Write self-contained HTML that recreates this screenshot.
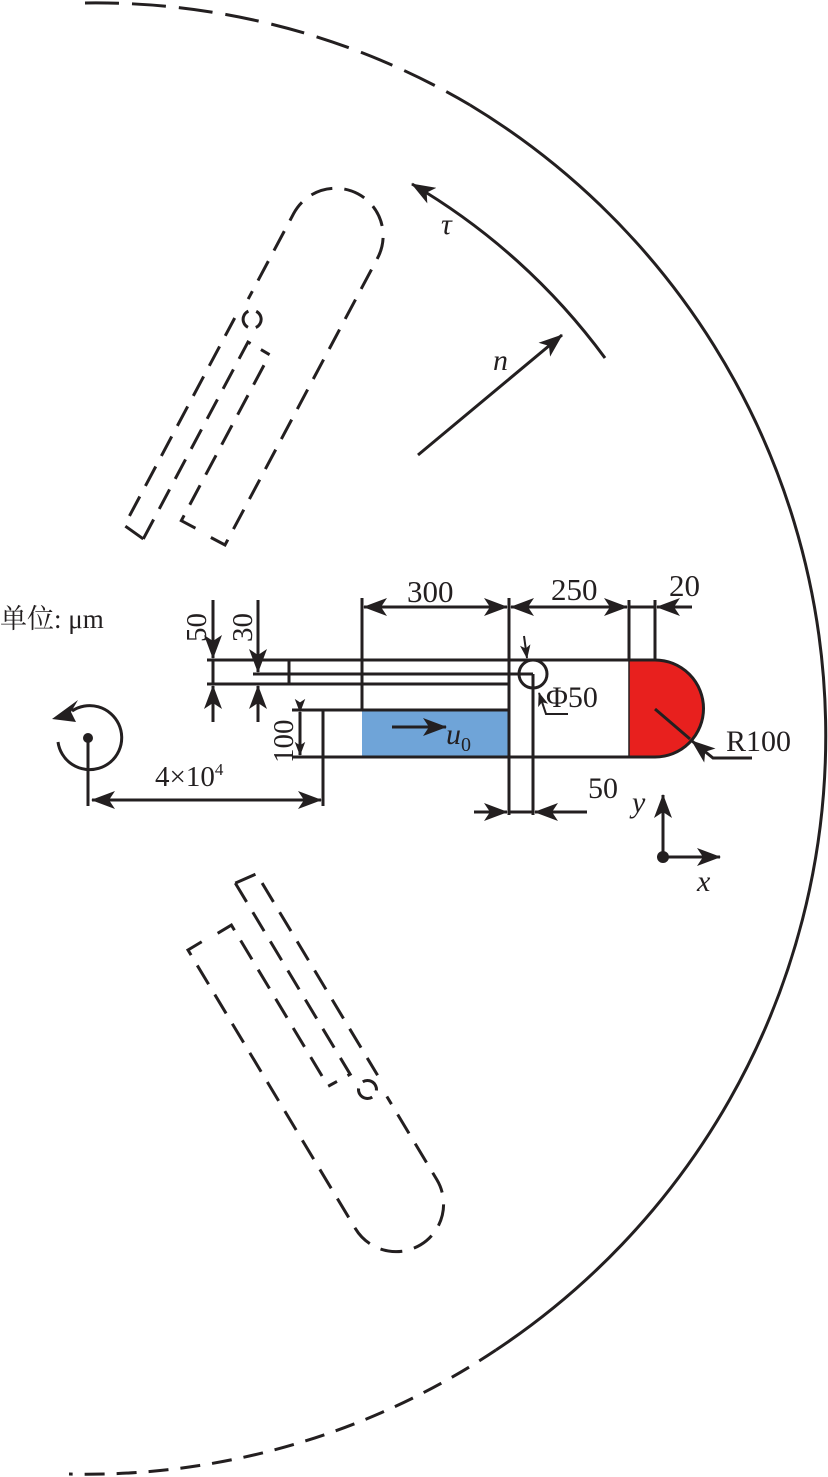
<!DOCTYPE html>
<html><head><meta charset="utf-8"><style>
html,body{margin:0;padding:0;background:#fff;}
svg{display:block;}
text{font-family:"Liberation Serif","Noto Serif CJK SC",serif;fill:#231f20;}
</style></head><body>
<svg width="828" height="1477" viewBox="0 0 828 1477" xmlns="http://www.w3.org/2000/svg">
<defs>
<marker id="a" viewBox="0 0 24 18" refX="23" refY="9" markerWidth="24" markerHeight="18" markerUnits="userSpaceOnUse" orient="auto-start-reverse">
<path d="M0,0 L24,9 L0,18 L6,9 Z" fill="#231f20"/>
</marker>
<marker id="s" viewBox="0 0 16 12" refX="15" refY="6" markerWidth="14" markerHeight="11" markerUnits="userSpaceOnUse" orient="auto">
<path d="M0,0 L16,6 L0,12 L4,6 Z" fill="#231f20"/>
</marker>
<g id="tpl" fill="none" stroke="#231f20" stroke-width="3" stroke-dasharray="22 12">
<path d="M0,-16 L0,0 L325,0 A47.5,47.5 0 0 0 325,-95 L228,-95"/>
<path d="M-33,-75 L-30,-98 L205,-98"/>
<path d="M-33,-75 L190,-75 L189,-50"/>
<path d="M1,-34 L1,-50 L188,-50"/>
<circle cx="212" cy="-82" r="9" stroke-dasharray="20 8"/>
</g>
</defs>

<path d="M85,3 A737,737 0 0 1 470,105" fill="none" stroke="#231f20" stroke-width="3" stroke-dasharray="34 13"/>
<path d="M470,105 A737,737 0 0 1 496,1350" fill="none" stroke="#231f20" stroke-width="3"/>
<path d="M496,1350 A737,737 0 0 1 69,1474" fill="none" stroke="#231f20" stroke-width="3" stroke-dasharray="20 12"/>

<use href="#tpl" transform="translate(225,545) rotate(-62)"/>
<use href="#tpl" transform="translate(188,950) rotate(59)"/>

<path d="M605,358 A642,642 0 0 0 412,184" fill="none" stroke="#231f20" stroke-width="3" marker-end="url(#a)"/>
<line x1="418" y1="455" x2="562" y2="335" stroke="#231f20" stroke-width="3" marker-end="url(#a)"/>
<text x="441" y="234" font-size="30" font-style="italic">τ</text>
<text x="493" y="370" font-size="30" font-style="italic">n</text>

<rect x="362" y="710" width="147" height="47" fill="#6fa4d8"/>
<path d="M629,660 L655,660 A48.5,48.5 0 0 1 655,757 L629,757 Z" fill="#e8201e"/>

<g fill="none" stroke="#231f20" stroke-width="3">
<path d="M213,660 L655,660 A48.5,48.5 0 0 1 655,757 L292,757"/>
<line x1="629" y1="660" x2="629" y2="757" stroke-width="1.5"/>
<line x1="213" y1="684" x2="509" y2="684"/>
<line x1="253" y1="674" x2="533" y2="674"/>
<line x1="213" y1="660" x2="213" y2="684"/>
<line x1="289" y1="660" x2="289" y2="684"/>
<line x1="292" y1="710" x2="509" y2="710"/>
<line x1="323" y1="710" x2="323" y2="806"/>
<circle cx="533" cy="674" r="14"/>
<line x1="362" y1="598" x2="362" y2="710"/>
<line x1="509" y1="598" x2="509" y2="815"/>
<line x1="533" y1="674" x2="533" y2="815"/>
<line x1="629" y1="600" x2="629" y2="660"/>
<line x1="655" y1="600" x2="655" y2="660"/>
<line x1="364" y1="607" x2="507" y2="607" marker-start="url(#a)" marker-end="url(#a)"/>
<line x1="511" y1="607" x2="627" y2="607" marker-start="url(#a)" marker-end="url(#a)"/>
<line x1="629" y1="607" x2="655" y2="607"/>
<line x1="692" y1="607" x2="657" y2="607" marker-end="url(#a)"/>
<line x1="213" y1="600" x2="213" y2="658" marker-end="url(#a)"/>
<line x1="258" y1="600" x2="258" y2="672" marker-end="url(#a)"/>
<line x1="213" y1="722" x2="213" y2="686" marker-end="url(#a)"/>
<line x1="258" y1="722" x2="258" y2="686" marker-end="url(#a)"/>
<line x1="207" y1="660" x2="213" y2="660"/>
<line x1="207" y1="684" x2="213" y2="684"/>
<line x1="300" y1="712" x2="300" y2="755" marker-start="url(#s)" marker-end="url(#s)"/>
<line x1="92" y1="800" x2="321" y2="800" marker-start="url(#a)" marker-end="url(#a)"/>
<line x1="474" y1="812" x2="507" y2="812" marker-end="url(#a)"/>
<line x1="509" y1="812" x2="533" y2="812"/>
<line x1="587" y1="812" x2="535" y2="812" marker-end="url(#a)"/>
<line x1="524" y1="636" x2="527" y2="658" stroke-width="2" marker-end="url(#s)"/>
<path d="M568,714 L546,714 L539,693" stroke-width="2" marker-end="url(#s)"/>
<line x1="655" y1="709" x2="690" y2="739"/>
<path d="M752,758 L713,758 L692,741" marker-end="url(#a)"/>
<path d="M58,742 A32,32 0 1 0 72,711" />
<line x1="88" y1="738" x2="88" y2="806"/>
<line x1="663" y1="857" x2="663" y2="795" marker-end="url(#a)"/>
<line x1="663" y1="857" x2="720" y2="857" marker-end="url(#a)"/>
</g>
<polygon points="52,719 78,700 71,712 76,722" fill="#231f20"/>
<circle cx="88" cy="738" r="5" fill="#231f20"/>
<circle cx="663" cy="857" r="6" fill="#231f20"/>

<text x="407" y="602" font-size="31">300</text>
<text x="551" y="600" font-size="31">250</text>
<text x="669" y="596" font-size="31">20</text>
<text x="0" y="628" font-size="27">单位: μm</text>
<text transform="translate(206,642) rotate(-90)" font-size="29">50</text>
<text transform="translate(252,642) rotate(-90)" font-size="29">30</text>
<text transform="translate(293,763) rotate(-90)" font-size="29">100</text>
<text x="546" y="707" font-size="30">Φ50</text>
<text x="726" y="751" font-size="30">R100</text>
<text x="588" y="798" font-size="30">50</text>
<text x="155" y="786" font-size="29">4×10<tspan font-size="17" dy="-11">4</tspan></text>
<line x1="392" y1="727" x2="446" y2="727" stroke="#231f20" stroke-width="3" marker-end="url(#a)"/>
<text x="446" y="744" font-size="30" font-style="italic">u<tspan font-size="20" font-style="normal" dy="7">0</tspan></text>
<text x="632" y="812" font-size="30" font-style="italic">y</text>
<text x="697" y="891" font-size="30" font-style="italic">x</text>
</svg>
</body></html>
